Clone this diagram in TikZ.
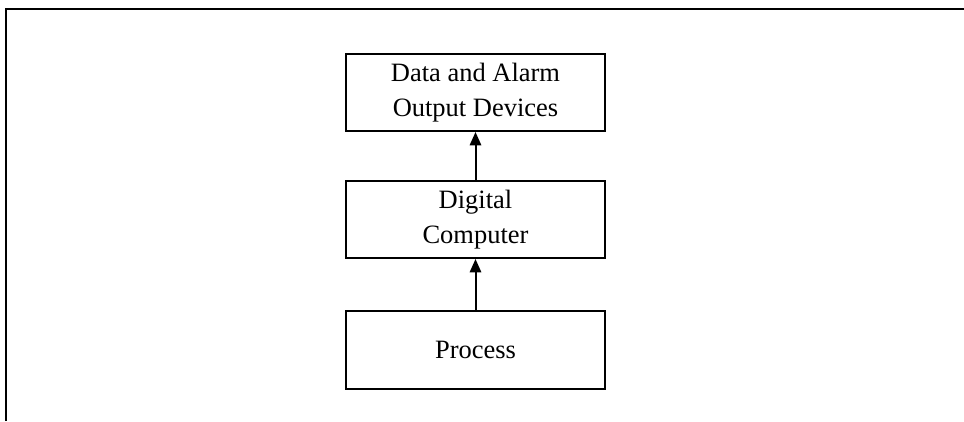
\documentclass[tikz,border=0pt]{standalone}
\usepackage{fontspec}
\setmainfont{Liberation Serif}
\usepackage{tikz}
\usetikzlibrary{arrows.meta, positioning}
\tikzset{
  blockbox/.style={draw, line width=1.7pt, minimum width=7.77cm, minimum height=2.31cm, align=center, font=\fontsize{22.6}{29.5}\selectfont},
  flowarrow/.style={line width=1.7pt, -{Triangle[length=4mm, width=3.4mm]}}
}
\begin{document}
\begin{tikzpicture}
        \useasboundingbox (0,0) rectangle (28.92,12.63);
        \draw[line width=1.7pt] (0.18,0) -- (0.18,12.36) -- (28.92,12.36);
        \node[blockbox] (outdev) at (14.265,9.855) {Data and Alarm\\Output Devices};
        \node[blockbox, below=1.44cm of outdev] (computer) {Digital\\Computer};
        \node[blockbox, below=1.53cm of computer, minimum height=2.34cm] (process) {Process};
        \draw[flowarrow] (process) -- (computer);
        \draw[flowarrow] (computer) -- (outdev);
    \end{tikzpicture}
\end{document}
